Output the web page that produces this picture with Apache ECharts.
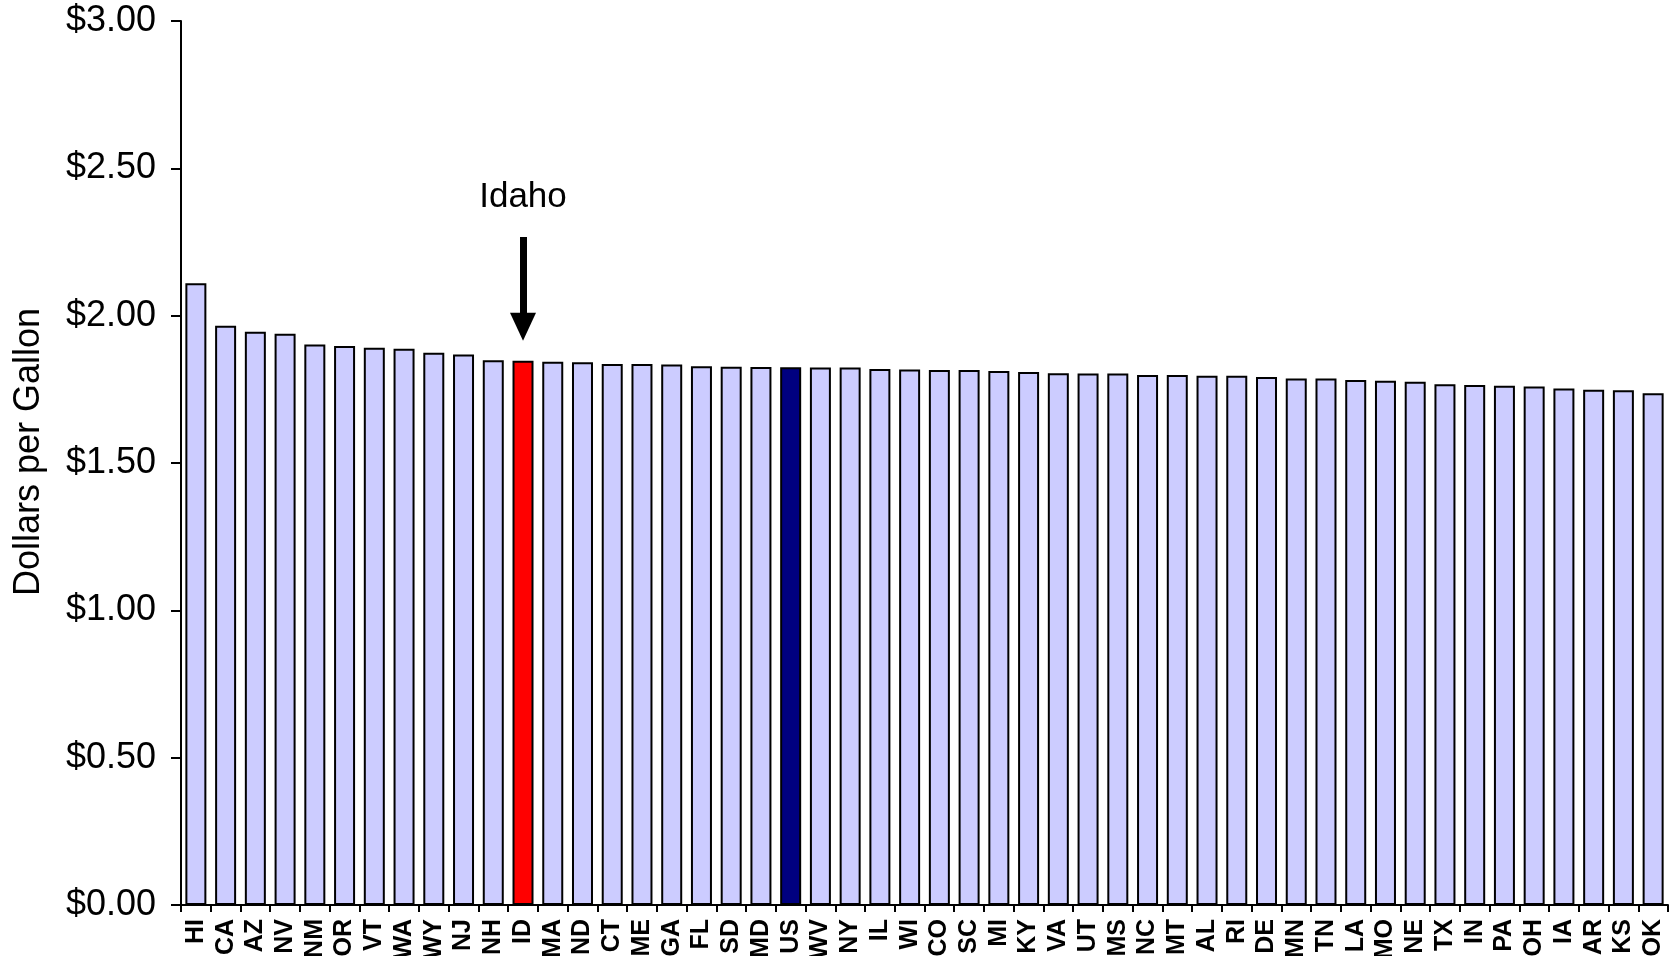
<!DOCTYPE html>
<html>
<head>
<meta charset="utf-8">
<script src="https://cdn.jsdelivr.net/npm/echarts@6/dist/echarts.min.js"></script>
<style>
html,body{margin:0;padding:0;background:#fff;}
#chart{width:1671px;height:956px;}
</style>
</head>
<body>
<div id="chart"></div>
<script>
const states = ['HI','CA','AZ','NV','NM','OR','VT','WA','WY','NJ','NH','ID','MA','ND','CT','ME','GA','FL','SD','MD','US','WV','NY','IL','WI','CO','SC','MI','KY','VA','UT','MS','NC','MT','AL','RI','DE','MN','TN','LA','MO','NE','TX','IN','PA','OH','IA','AR','KS','OK'];
const prices = [2.110,1.966,1.945,1.939,1.902,1.897,1.891,1.888,1.874,1.868,1.849,1.847,1.844,1.842,1.836,1.836,1.834,1.828,1.827,1.826,1.825,1.824,1.824,1.819,1.817,1.816,1.816,1.812,1.809,1.805,1.804,1.804,1.799,1.799,1.796,1.796,1.792,1.787,1.787,1.782,1.779,1.776,1.767,1.765,1.762,1.760,1.753,1.749,1.747,1.737];
const yTicks = [0, 0.5, 1, 1.5, 2, 2.5, 3];
const highlightState = 'ID';
const nationalCode = 'US';
const annotationText = 'Idaho';
const arrowFrom = 2.267;
const arrowTo = 1.962;
const annotationY = 2.40;

const chart = echarts.init(document.getElementById('chart'), null, {renderer: 'canvas'});
const font = 'Liberation Sans, Arial, sans-serif';
chart.setOption({
  animation: false,
  backgroundColor: '#ffffff',
  grid: {left: 181, right: 3, top: 21, bottom: 51, containLabel: false, outerBoundsMode: 'none'},
  xAxis: {
    type: 'category',
    data: states,
    boundaryGap: true,
    axisLine: {lineStyle: {color: '#000', width: 2}},
    axisTick: {show: true, length: 7, lineStyle: {color: '#000', width: 2}, alignWithLabel: false},
    axisLabel: {rotate: 90, interval: 0, margin: 14, fontFamily: font, fontWeight: 'bold', fontSize: 25, color: '#000'},
    splitLine: {show: false}
  },
  yAxis: {
    type: 'value',
    min: yTicks[0],
    max: yTicks[yTicks.length - 1],
    interval: yTicks[1] - yTicks[0],
    name: 'Dollars per Gallon',
    nameLocation: 'middle',
    nameRotate: 90,
    nameGap: 134,
    nameTextStyle: {fontFamily: font, fontSize: 36, color: '#000', padding: [0, 0, 0, 22]},
    axisLine: {show: true, lineStyle: {color: '#000', width: 2}},
    axisTick: {show: true, length: 10, lineStyle: {color: '#000', width: 2}},
    axisLabel: {margin: 25, fontFamily: font, fontSize: 36, color: '#000', formatter: v => '$' + v.toFixed(2)},
    splitLine: {show: false}
  },
  series: [{
    type: 'bar',
    data: prices,
    barWidth: 21,
    itemStyle: {
      borderColor: '#000',
      borderWidth: 2,
      color: p => p.name === highlightState ? '#ff0000' : (p.name === nationalCode ? '#000080' : '#ccccff')
    },
    markLine: {
      silent: true,
      symbol: ['none', 'triangle'],
      symbolSize: [26, 28],
      lineStyle: {color: '#000', width: 7, type: 'solid'},
      label: {show: false},
      data: [[{coord: [highlightState, arrowFrom]}, {coord: [highlightState, arrowTo]}]]
    },
    markPoint: {
      silent: true,
      symbol: 'circle',
      symbolSize: 0,
      label: {show: true, position: 'inside', formatter: annotationText, fontFamily: font, fontSize: 35, color: '#000'},
      data: [{coord: [highlightState, annotationY]}]
    }
  }]
});
</script>
</body>
</html>
